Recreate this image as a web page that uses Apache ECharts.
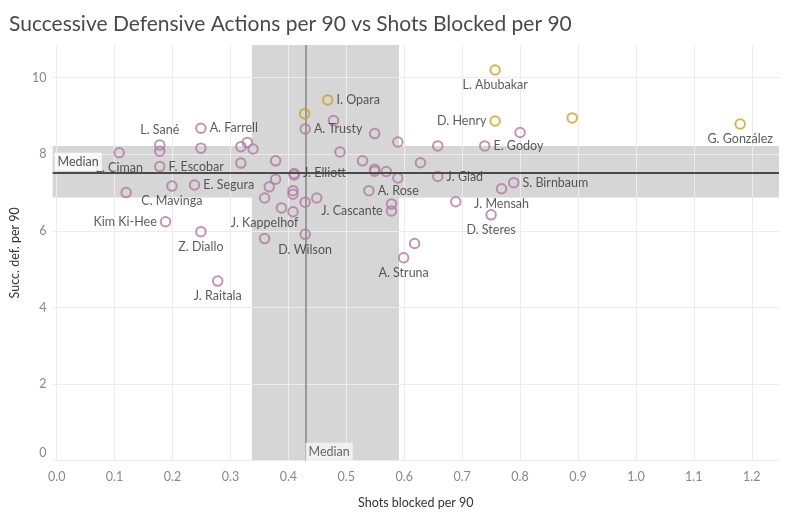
<!DOCTYPE html>
<html>
<head>
<meta charset="utf-8">
<script src="https://cdn.jsdelivr.net/npm/echarts@6/dist/echarts.min.js"></script>
<style>
  html, body { margin: 0; padding: 0; background: #fff; }
  #chart { width: 800px; height: 524px; }
</style>
</head>
<body>
<div id="chart"></div>
<script>
// ---------- DATA ----------
const chartTitle = 'Successive Defensive Actions per 90 vs Shots Blocked per 90';
const xAxisTitle = 'Shots blocked per 90';
const yAxisTitle = 'Succ. def. per 90';

// Highlighted (gold) players
const topNames = ['L. Abubakar', 'D. Henry', '', 'G. González', 'I. Opara', ''];
const topShotsBlocked = [0.757, 0.757, 0.890, 1.180, 0.468, 0.428];
const topSuccDef = [10.20, 8.87, 8.95, 8.79, 9.42, 9.06];

// Other (purple) players
const otherNames = [
  'A. Farrell', 'L. Sané', '', 'L. Ciman', '', 'F. Escobar', '', 'C. Mavinga', 'E. Segura', 'Kim Ki-Hee',
  'Z. Diallo', 'J. Raitala', '', '', '', '', '', '', '', '',
  '', '', '', '', 'J. Kappelhof', 'J. Elliott', '', 'A. Trusty', '', '',
  '', '', '', '', '', '', '', '', 'J. Glad', 'A. Rose',
  '', '', '', 'J. Cascante', 'D. Wilson', '', 'A. Struna', '', '', 'E. Godoy',
  '', 'S. Birnbaum', 'J. Mensah', 'D. Steres'
];
const otherShotsBlocked = [
  0.249, 0.178, 0.178, 0.108, 0.249, 0.178, 0.120, 0.199, 0.238, 0.188,
  0.249, 0.278, 0.318, 0.329, 0.339, 0.318, 0.378, 0.378, 0.367, 0.359,
  0.388, 0.408, 0.408, 0.408, 0.359, 0.410, 0.410, 0.429, 0.478, 0.549,
  0.589, 0.489, 0.528, 0.628, 0.549, 0.549, 0.569, 0.589, 0.658, 0.539,
  0.449, 0.429, 0.578, 0.578, 0.429, 0.618, 0.599, 0.689, 0.800, 0.739,
  0.658, 0.789, 0.768, 0.750
];
const otherSuccDef = [
  8.68, 8.24, 8.08, 8.04, 8.16, 7.68, 7.00, 7.17, 7.20, 6.24,
  5.98, 4.69, 8.20, 8.31, 8.14, 7.77, 7.83, 7.35, 7.15, 6.86,
  6.60, 6.50, 7.05, 6.96, 5.80, 7.50, 7.46, 8.66, 8.88, 8.54,
  8.32, 8.06, 7.83, 7.78, 7.61, 7.56, 7.55, 7.38, 7.42, 7.05,
  6.86, 6.75, 6.70, 6.52, 5.91, 5.67, 5.30, 6.76, 8.57, 8.22,
  8.22, 7.26, 7.10, 6.42
];

// Reference lines and bands
const medianShotsBlocked = 0.428;
const medianSuccDef = 7.52;
const bandShotsBlocked = [0.337, 0.591];
const bandSuccDef = [6.87, 8.22];

// Axis ticks
const xTicks = [0.0, 0.1, 0.2, 0.3, 0.4, 0.5, 0.6, 0.7, 0.8, 0.9, 1.0, 1.1, 1.2];
const yTicks = [0, 2, 4, 6, 8, 10];

// ---------- STYLE ----------
const FONT = 'Lato';
const GOLD = '#c9a12c';
const PURPLE = '#b07aa1';
const BAND = '#d6d6d6';

// label placement per name (style only)
const labelPlacement = {
  'L. Abubakar': { position: 'bottom' },
  'D. Henry': { position: 'left' },
  'G. González': { position: 'bottom' },
  'I. Opara': { position: 'right' },
  'A. Farrell': { position: 'right' },
  'L. Sané': { position: 'top', offset: [-20, 0] },
  'L. Ciman': { position: 'bottom', offset: [-6, 0] },
  'F. Escobar': { position: 'right' },
  'C. Mavinga': { position: 'bottom' },
  'E. Segura': { position: 'right' },
  'Kim Ki-Hee': { position: 'left' },
  'Z. Diallo': { position: 'bottom' },
  'J. Raitala': { position: 'bottom' },
  'J. Kappelhof': { position: 'top', offset: [-18, 0] },
  'J. Elliott': { position: 'right' },
  'A. Trusty': { position: 'right', offset: [0, 6] },
  'J. Glad': { position: 'right' },
  'A. Rose': { position: 'right', offset: [0, 1] },
  'J. Cascante': { position: 'left', offset: [-2, 2] },
  'D. Wilson': { position: 'bottom' },
  'A. Struna': { position: 'bottom' },
  'E. Godoy': { position: 'right', offset: [0, 3] },
  'S. Birnbaum': { position: 'right' },
  'J. Mensah': { position: 'bottom', offset: [28, 0] },
  'D. Steres': { position: 'bottom' }
};

function buildPoints(names, xs, ys) {
  return names.map((n, i) => {
    const p = { name: n, value: [xs[i], ys[i]] };
    const pl = labelPlacement[n];
    if (n && pl) {
      p.label = { show: true, position: pl.position, offset: pl.offset || [0, 0] };
    }
    return p;
  });
}

const pointLabel = {
  show: false,
  formatter: p => p.name,
  color: '#333',
  fontFamily: FONT,
  fontSize: 12.5,
  distance: 3
};

const chart = echarts.init(document.getElementById('chart'), null, { renderer: 'canvas' });

const isTick = (v, arr) => arr.some(t => Math.abs(t - v) < 1e-6);

const option = {
  backgroundColor: '#fff',
  animation: false,
  title: {
    text: chartTitle,
    left: 4,
    top: 9,
    textStyle: { fontFamily: FONT, fontSize: 21, fontWeight: 'normal', color: '#4a4a4a' }
  },
  grid: { left: 52.6, right: 21, top: 45, bottom: 63.3, containLabel: false },
  xAxis: {
    type: 'value',
    min: -0.007,
    max: 1.247,
    minInterval: 0.1,
    maxInterval: 0.1,
    z: 1,
    name: xAxisTitle,
    nameLocation: 'middle',
    nameGap: 36,
    nameTextStyle: { fontFamily: FONT, fontSize: 12.5, color: '#333' },
    axisLine: { show: false },
    axisTick: { show: false },
    axisLabel: {
      interval: 0,
      showMinLabel: false,
      showMaxLabel: false,
      margin: 10,
      color: '#888',
      fontFamily: FONT,
      fontSize: 12.5,
      formatter: v => isTick(v, xTicks) ? v.toFixed(1) : ''
    },
    splitLine: { show: true, showMinLine: false, showMaxLine: false, lineStyle: { color: '#ececec', width: 1 } }
  },
  yAxis: {
    type: 'value',
    min: 0,
    max: 10.854,
    interval: 2,
    z: 1,
    name: yAxisTitle,
    nameLocation: 'middle',
    nameGap: 31,
    nameTextStyle: { fontFamily: FONT, fontSize: 12.5, color: '#333' },
    axisLine: { show: false },
    axisTick: { show: false },
    axisLabel: {
      showMaxLabel: false,
      margin: 6,
      color: '#888',
      fontFamily: FONT,
      fontSize: 12.5,
      formatter: v => {
        if (!isTick(v, yTicks)) return '';
        return v === 0 ? '{lift|0}' : String(v);
      },
      rich: { lift: { color: '#888', fontFamily: FONT, fontSize: 12.5, padding: [0, 0, 16, 0] } }
    },
    splitLine: { show: true, showMaxLine: false, lineStyle: { color: '#ececec', width: 1 } }
  },
  series: [
    {
      name: 'bands',
      type: 'scatter',
      data: [],
      z: 0,
      markArea: {
        z: 0,
        silent: true,
        itemStyle: { color: BAND, opacity: 1 },
        data: [
          [{ xAxis: bandShotsBlocked[0] }, { xAxis: bandShotsBlocked[1] }],
          [{ yAxis: bandSuccDef[0] }, { yAxis: bandSuccDef[1] }]
        ]
      }
    },
    {
      name: 'medianX',
      type: 'scatter',
      data: [],
      z: 3,
      markLine: {
        z: 3,
        silent: true,
        symbol: ['none', 'none'],
        data: [
          {
            xAxis: medianShotsBlocked,
            lineStyle: { color: '#999', width: 2, type: 'solid' },
            label: { show: false }
          }
        ]
      },
      markPoint: {
        z: 6,
        silent: true,
        symbol: 'circle',
        symbolSize: 0,
        data: [{ coord: [medianShotsBlocked, 0] }],
        label: {
          show: true,
          formatter: 'Median',
          position: 'right',
          distance: 1,
          offset: [0, -9],
          color: '#666',
          fontFamily: FONT,
          fontSize: 12.5,
          backgroundColor: 'rgba(245,245,245,0.85)',
          padding: [3, 3, 2, 3]
        }
      }
    },
    {
      name: 'medianY',
      type: 'scatter',
      data: [],
      z: 6,
      markLine: {
        z: 6,
        silent: true,
        symbol: ['none', 'none'],
        data: [
          {
            yAxis: medianSuccDef,
            lineStyle: { color: '#4a4a4a', width: 2, type: 'solid' },
            label: {
              show: true,
              position: 'insideStartTop',
              formatter: 'Median',
              distance: [2, 2],
              color: '#555',
              fontFamily: FONT,
              fontSize: 12.5,
              backgroundColor: 'rgba(255,255,255,0.85)',
              padding: [3, 3, 2, 3]
            }
          }
        ]
      }
    },
    {
      name: 'Others',
      type: 'scatter',
      z: 4,
      symbol: 'circle',
      symbolSize: 9.5,
      itemStyle: { color: 'rgba(0,0,0,0)', borderColor: PURPLE, borderWidth: 2 },
      label: pointLabel,
      labelLayout: { hideOverlap: false },
      data: buildPoints(otherNames, otherShotsBlocked, otherSuccDef)
    },
    {
      name: 'Top',
      type: 'scatter',
      z: 5,
      symbol: 'circle',
      symbolSize: 9.5,
      itemStyle: { color: 'rgba(0,0,0,0)', borderColor: GOLD, borderWidth: 2 },
      label: pointLabel,
      labelLayout: { hideOverlap: false },
      data: buildPoints(topNames, topShotsBlocked, topSuccDef)
    }
  ]
};

chart.setOption(option);
</script>
</body>
</html>
